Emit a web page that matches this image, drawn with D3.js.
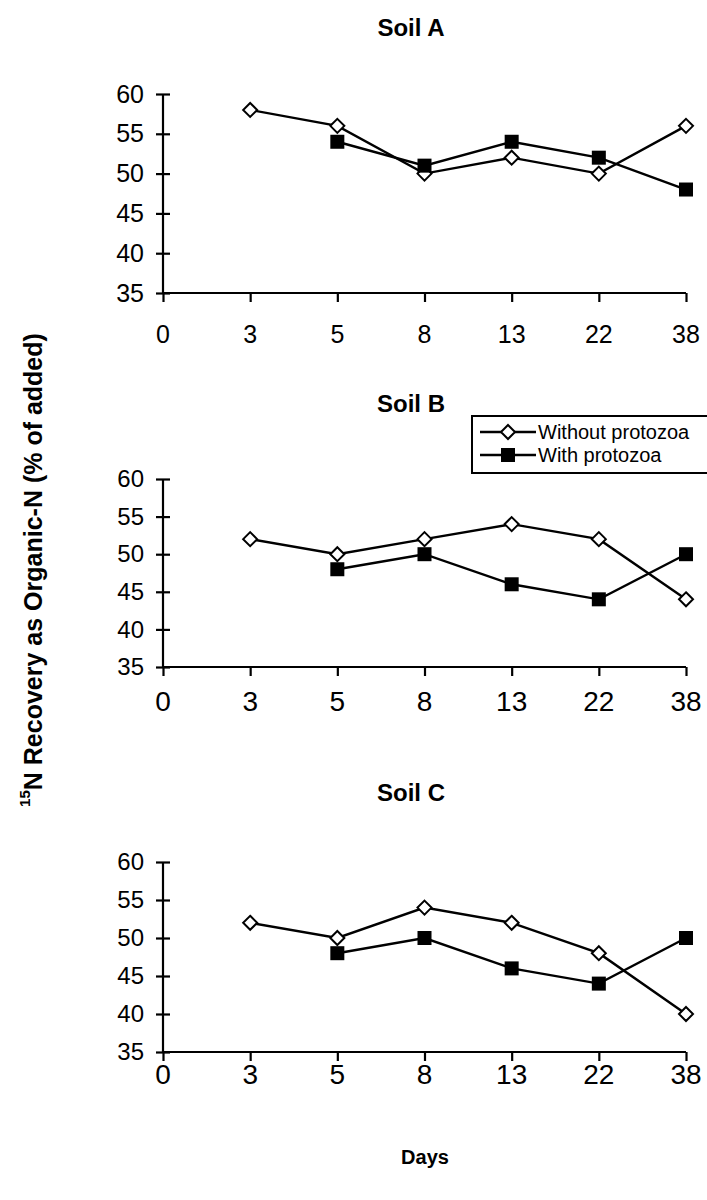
<!DOCTYPE html>
<meta charset="utf-8">
<style>
body { margin: 0; background: #fff; }
svg { font-family: "Liberation Sans", Arial, sans-serif; }
.axis path, .axis line { fill: none; stroke: #000; stroke-width: 2.2px; }
.axis text { fill: #000; }
.line { fill: none; stroke: #000; stroke-width: 2.4px; }
.title { font-weight: bold; font-size: 24px; }
</style>
<body>
<script src="https://d3js.org/d3.v7.min.js"></script>
<script>

// data
var days = ["0", "3", "5", "8", "13", "22", "38"];
var yTicks = [35, 40, 45, 50, 55, 60];
var seriesNames = ["Without protozoa", "With protozoa"];

var soilA_without = [null, 58, 56, 50, 52, 50, 56];
var soilA_with    = [null, null, 54, 51, 54, 52, 48];
var soilB_without = [null, 52, 50, 52, 54, 52, 44];
var soilB_with    = [null, null, 48, 50, 46, 44, 50];
var soilC_without = [null, 52, 50, 54, 52, 48, 40];
var soilC_with    = [null, null, 48, 50, 46, 44, 50];

var svg = d3.select("body").append("svg")
    .attr("width", 707)
    .attr("height", 1200);

var panels = [
  {title: "Soil A", without: soilA_without, withP: soilA_with,
   top: 94, bottom: 293, titleY: 36, tickFont: 25, xFont: 25, xLabelY: 343},
  {title: "Soil B", without: soilB_without, withP: soilB_with,
   top: 479, bottom: 667, titleY: 412, tickFont: 24, xFont: 28, xLabelY: 711},
  {title: "Soil C", without: soilC_without, withP: soilC_with,
   top: 862, bottom: 1052, titleY: 801, tickFont: 24, xFont: 28, xLabelY: 1084}
];

var x = d3.scalePoint().domain(days).range([163, 686]).padding(0);

function diamond(g, cx, cy) {
  g.append("path")
      .attr("d", "M" + cx + "," + (cy - 7) + "L" + (cx + 7) + "," + cy +
                 "L" + cx + "," + (cy + 7) + "L" + (cx - 7) + "," + cy + "Z")
      .attr("fill", "#fff")
      .attr("stroke", "#000")
      .attr("stroke-width", 2);
}

function square(g, cx, cy) {
  g.append("rect")
      .attr("x", cx - 7).attr("y", cy - 7)
      .attr("width", 14).attr("height", 14)
      .attr("fill", "#000");
}

panels.forEach(function(p) {
  var y = d3.scaleLinear().domain([35, 60]).range([p.bottom, p.top]);
  var g = svg.append("g");

  g.append("text")
      .attr("class", "title")
      .attr("x", 411)
      .attr("y", p.titleY)
      .attr("text-anchor", "middle")
      .text(p.title);

  // y axis (ticks cross the line)
  var ya = g.append("g")
      .attr("class", "axis")
      .attr("transform", "translate(163,0)")
      .call(d3.axisLeft(y).tickValues(yTicks).tickSize(7).tickPadding(12));
  ya.selectAll(".tick line").attr("x2", 7).attr("x1", -7);
  ya.select(".domain").attr("d", "M0," + p.top + "V" + p.bottom);
  ya.selectAll("text").style("font-size", p.tickFont + "px");

  // x axis
  var xa = g.append("g")
      .attr("class", "axis")
      .attr("transform", "translate(0," + p.bottom + ")")
      .call(d3.axisBottom(x).tickSize(9).tickSizeOuter(0));
  xa.selectAll("text").remove();
  xa.select(".domain").attr("d", "M163,0H686");

  g.selectAll(".xlab")
      .data(days)
    .enter().append("text")
      .attr("x", function(d) { return x(d); })
      .attr("y", p.xLabelY)
      .attr("text-anchor", "middle")
      .style("font-size", p.xFont + "px")
      .text(function(d) { return d; });

  var line = d3.line()
      .defined(function(d) { return d != null; })
      .x(function(d, i) { return x(days[i]); })
      .y(function(d) { return y(d); });

  g.append("path").attr("class", "line").attr("d", line(p.without));
  g.append("path").attr("class", "line").attr("d", line(p.withP));

  p.without.forEach(function(v, i) {
    if (v != null) diamond(g, x(days[i]), y(v));
  });
  p.withP.forEach(function(v, i) {
    if (v != null) square(g, x(days[i]), y(v));
  });
});

// legend (in Soil B panel)
var legend = svg.append("g");
legend.append("path")
    .attr("d", "M710,416H472V473H710")
    .attr("fill", "#fff")
    .attr("stroke", "#000")
    .attr("stroke-width", 2);

seriesNames.forEach(function(name, i) {
  var ly = 432 + i * 23;
  legend.append("line")
      .attr("x1", 480).attr("x2", 536)
      .attr("y1", ly).attr("y2", ly)
      .attr("stroke", "#000").attr("stroke-width", 2.4);
  if (i == 0) diamond(legend, 508, ly); else square(legend, 508, ly);
  legend.append("text")
      .attr("x", 538)
      .attr("y", ly + 7)
      .style("font-size", "20px")
      .text(name);
});

// axis titles
svg.append("text")
    .attr("class", "title")
    .attr("x", 425)
    .attr("y", 1164)
    .attr("text-anchor", "middle")
    .style("font-size", "20px")
    .text("Days");

var yt = svg.append("text")
    .attr("class", "title")
    .attr("transform", "translate(37,570) rotate(-90)")
    .attr("text-anchor", "middle")
    .style("font-size", "25px");
yt.append("tspan").attr("dy", "-0.45em").style("font-size", "15px").text("15");
yt.append("tspan").attr("dy", "0.45em").text("N Recovery as Organic-N (% of added)");

</script>
